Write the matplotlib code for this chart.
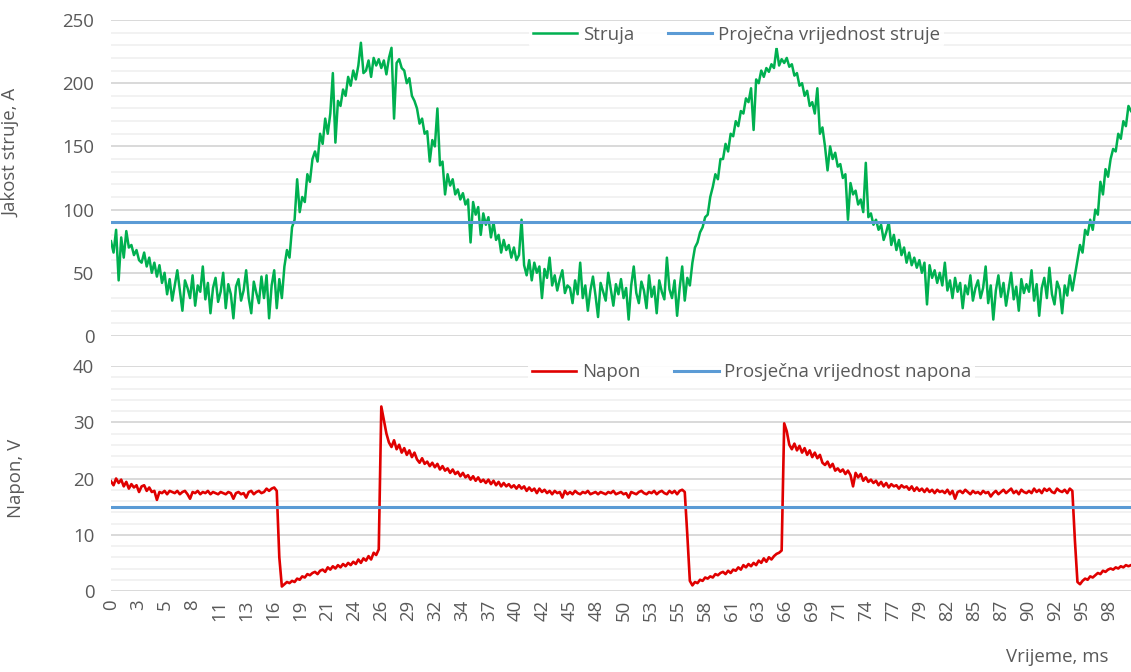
import numpy as np
import matplotlib
matplotlib.use("Agg")
import matplotlib.pyplot as plt
from matplotlib.ticker import MultipleLocator

plt.rcParams['font.family'] = ['Open Sans', 'DejaVu Sans']

# ---------------- data ----------------
sample_step_ms = 0.25

current_A = [
    75, 66, 84, 44, 78, 62, 83, 70, 72, 64, 68, 60, 58, 66, 55, 62, 50, 58, 47, 56,
    42, 50, 33, 45, 28, 40, 52, 36, 20, 44, 38, 30, 48, 24, 40, 35, 55, 29, 42, 18,
    38, 46, 27, 35, 50, 22, 41, 33, 14, 39, 45, 28, 36, 52, 30, 18, 43, 34, 26, 47,
    30, 48, 14, 40, 52, 22, 45, 30, 55, 68, 62, 86, 92, 124, 98, 110, 106, 128, 122, 140,
    146, 138, 160, 152, 172, 160, 176, 208, 153, 186, 182, 195, 190, 205, 198, 210, 203, 214, 232, 208,
    210, 218, 205, 220, 214, 219, 212, 218, 207, 220, 228, 172, 216, 219, 212, 210, 200, 204, 190, 186,
    180, 168, 172, 160, 162, 138, 155, 150, 180, 135, 138, 112, 128, 119, 124, 112, 116, 108, 113, 104,
    108, 74, 106, 96, 102, 80, 97, 88, 94, 78, 90, 76, 80, 66, 76, 68, 72, 62, 70, 60,
    64, 92, 56, 48, 60, 44, 58, 50, 55, 30, 53, 46, 62, 40, 48, 36, 45, 52, 34, 40,
    38, 26, 44, 33, 58, 30, 40, 20, 36, 47, 32, 15, 42, 35, 28, 50, 37, 24, 41, 33,
    45, 30, 38, 13, 40, 55, 34, 26, 43, 36, 22, 48, 31, 39, 18, 44, 35, 29, 62, 37,
    30, 44, 16, 38, 55, 28, 46, 40, 58, 70, 74, 82, 86, 94, 96, 110, 118, 128, 124, 140,
    140, 152, 146, 160, 158, 170, 166, 178, 176, 188, 185, 196, 163, 203, 200, 210, 205, 212, 209, 215,
    212, 228, 214, 219, 216, 220, 213, 215, 206, 208, 198, 200, 190, 194, 182, 185, 176, 196, 160, 165,
    150, 131, 150, 140, 145, 134, 136, 125, 128, 92, 121, 112, 115, 104, 108, 98, 137, 94, 97, 88,
    92, 84, 88, 76, 82, 90, 72, 80, 68, 76, 64, 70, 58, 66, 56, 62, 54, 60, 50, 58,
    25, 56, 46, 52, 42, 50, 40, 58, 36, 44, 30, 46, 35, 42, 22, 40, 33, 48, 28, 38,
    44, 30, 38, 55, 26, 40, 13, 36, 48, 31, 42, 24, 37, 50, 29, 39, 20, 45, 34, 41,
    35, 52, 28, 41, 16, 38, 46, 30, 54, 33, 25, 43, 37, 18, 40, 32, 48, 36, 48, 60,
    72, 66, 84, 80, 92, 84, 100, 96, 122, 112, 132, 126, 140, 148, 146, 160, 156, 170, 166, 182, 178,
]

voltage_V = [
    19.5, 18.8, 20.0, 19.2, 19.8, 18.6, 19.4, 18.2, 19.0, 18.4, 18.8, 17.6, 18.6, 18.8, 17.8, 18.4, 17.6, 17.8, 16.2, 17.6,
    17.4, 17.8, 17.2, 17.8, 17.6, 17.4, 17.8, 17.2, 17.6, 17.8, 17.2, 16.4, 17.6, 17.4, 17.8, 17.2, 17.6, 17.4, 17.8, 17.2,
    17.6, 17.4, 17.2, 17.6, 17.4, 17.2, 17.6, 17.4, 16.4, 17.4, 17.6, 17.2, 17.4, 16.6, 17.6, 17.8, 17.2, 17.6, 17.8, 17.4,
    17.6, 18.2, 17.8, 18.2, 18.4, 17.8, 6.0, 0.8, 1.2, 1.6, 1.4, 1.8, 1.6, 2.2, 2.0, 2.6, 2.4, 3.0, 2.8, 3.2,
    3.4, 3.0, 3.6, 3.8, 3.4, 4.2, 3.8, 4.4, 4.0, 4.6, 4.2, 4.8, 4.4, 5.0, 4.6, 5.2, 4.8, 5.6, 5.0, 5.8,
    5.4, 6.2, 5.6, 6.8, 6.4, 7.4, 32.8, 30.4, 28.0, 26.4, 25.6, 26.8, 25.2, 26.0, 24.6, 25.4, 24.2, 25.0, 23.8, 24.6,
    23.4, 22.8, 23.6, 22.6, 23.0, 22.2, 22.8, 22.0, 22.6, 21.6, 22.2, 21.4, 21.8, 21.0, 21.6, 20.8, 21.2, 20.4, 21.0, 20.2,
    20.6, 19.8, 20.4, 19.6, 20.2, 19.4, 19.8, 19.2, 19.8, 19.0, 19.6, 18.8, 19.4, 18.6, 19.2, 18.6, 19.0, 18.4, 18.8, 18.2,
    18.8, 18.2, 18.6, 17.8, 18.4, 17.8, 18.2, 17.4, 18.2, 17.6, 18.0, 17.4, 17.8, 17.2, 17.8, 17.4, 17.6, 16.6, 17.8, 17.2,
    17.6, 17.2, 17.8, 17.4, 17.2, 17.6, 17.4, 17.8, 17.2, 17.4, 17.6, 17.2, 17.6, 17.4, 17.2, 17.6, 17.4, 17.8, 17.2, 17.4,
    17.6, 17.2, 17.4, 16.6, 17.6, 17.4, 17.2, 17.6, 17.8, 17.4, 17.2, 17.6, 17.4, 17.8, 17.2, 17.6, 17.8, 17.4, 17.2, 17.8,
    17.4, 17.8, 17.2, 17.8, 18.0, 17.6, 10.0, 1.8, 1.0, 1.6, 1.4, 2.0, 1.8, 2.4, 2.2, 2.6, 2.4, 3.0, 2.8, 3.2,
    3.4, 3.0, 3.6, 3.2, 3.8, 3.6, 4.2, 3.8, 4.6, 4.2, 4.8, 4.4, 5.0, 4.6, 5.4, 5.0, 5.8, 5.2, 6.0, 5.6,
    6.2, 6.6, 6.8, 7.2, 29.8, 28.4, 26.0, 25.2, 26.2, 25.0, 25.8, 24.6, 25.4, 24.2, 25.0, 23.8, 24.6, 23.6, 24.2, 22.8,
    22.4, 23.0, 22.0, 22.6, 21.4, 21.8, 21.2, 21.6, 20.8, 21.4, 20.6, 18.6, 21.0, 20.2, 20.8, 19.6, 20.2, 19.4, 19.8, 19.2,
    19.6, 18.8, 19.4, 18.6, 19.2, 18.4, 19.0, 18.6, 18.8, 18.2, 18.8, 18.4, 18.6, 18.0, 18.6, 17.8, 18.4, 17.8, 18.2, 17.6,
    18.2, 17.6, 18.0, 17.4, 18.0, 17.6, 17.8, 17.4, 18.0, 17.2, 17.8, 16.4, 17.6, 17.8, 17.4, 18.0, 17.6, 17.2, 17.8, 17.4,
    17.6, 17.2, 17.8, 17.4, 17.6, 16.8, 17.4, 17.8, 17.2, 17.6, 18.0, 17.4, 17.8, 18.2, 17.4, 17.8, 17.2, 18.0, 17.6, 17.4,
    17.8, 17.4, 18.2, 17.6, 18.0, 17.4, 18.2, 17.8, 18.2, 17.6, 17.4, 18.2, 17.8, 17.6, 18.0, 17.4, 18.2, 17.8, 9.0, 1.6,
    1.2, 1.8, 2.2, 2.0, 2.6, 2.4, 2.8, 3.2, 3.0, 3.6, 3.4, 3.8, 4.0, 3.8, 4.2, 4.0, 4.4, 4.2, 4.6, 4.4, 4.6,
]

avg_current_A = 90
avg_voltage_V = 15

tick_labels = ["0", "3", "5", "8", "11", "13", "16", "19", "21", "24", "26", "29", "32",
               "34", "37", "40", "42", "45", "48", "50", "53", "55", "58", "61", "63",
               "66", "69", "71", "74", "77", "79", "82", "85", "87", "90", "92", "95", "98"]
tick_step_ms = 2.645

# ---------------- styling ----------------
GREEN = "#00B050"
RED = "#E00000"
BLUE = "#5B9BD5"
TXT = "#595959"
MAJ = "#D9D9D9"
MIN = "#F0F0F0"
FS = 13.4

time_ms = np.arange(len(current_A)) * sample_step_ms
time_v = np.arange(len(voltage_V)) * sample_step_ms

fig = plt.figure(figsize=(11.31, 6.72), dpi=100)
ax1 = fig.add_axes([111 / 1131, 1 - 336 / 672, 1020 / 1131, 316 / 672])
ax2 = fig.add_axes([111 / 1131, 1 - 591 / 672, 1020 / 1131, 225 / 672])


def style(ax, ymax, major, minor):
    ax.set_xlim(0, 100)
    ax.set_ylim(0, ymax)
    ax.yaxis.set_major_locator(MultipleLocator(major))
    ax.yaxis.set_minor_locator(MultipleLocator(minor))
    for s in ax.spines.values():
        s.set_visible(False)
    ax.grid(True, which="major", axis="y", color=MAJ, linewidth=1.4, zorder=0)
    ax.grid(True, which="minor", axis="y", color=MIN, linewidth=1.2, zorder=0)
    ax.tick_params(axis="y", which="both", length=0, pad=12, labelsize=FS, labelcolor=TXT)
    ax.set_axisbelow(True)
    ax.set_xticks([i * tick_step_ms for i in range(len(tick_labels))])


style(ax1, 250, 50, 10)
style(ax2, 40, 10, 2)

ax1.plot(time_ms, current_A, color=GREEN, linewidth=1.8, label="Struja", zorder=3)
ax1.axhline(avg_current_A, color=BLUE, linewidth=2.2, label="Proječna vrijednost struje", zorder=3)
ax1.tick_params(axis="x", length=0, labelbottom=False)

ax2.plot(time_v, voltage_V, color=RED, linewidth=1.9, label="Napon", zorder=3)
ax2.axhline(avg_voltage_V, color=BLUE, linewidth=2.2, label="Prosječna vrijednost napona", zorder=3)
ax2.set_xticklabels(tick_labels, rotation=90)
ax2.tick_params(axis="x", length=0, pad=6, labelsize=FS, labelcolor=TXT)

ax1.set_ylabel("Jakost struje, A", fontsize=FS, color=TXT)
ax1.yaxis.set_label_coords(-0.089, 0.58)
ax2.set_ylabel("Napon, V", fontsize=FS, color=TXT)
ax2.yaxis.set_label_coords(-0.084, 0.5)

for ax, cx, cy in ((ax1, 0.613, 0.953), (ax2, 0.628, 0.973)):
    leg = ax.legend(loc="center", bbox_to_anchor=(cx, cy), ncol=2, frameon=True,
                    fontsize=FS, handlelength=2.4, handletextpad=0.3, columnspacing=1.8,
                    borderpad=0.2, labelcolor=TXT)
    leg.get_frame().set_facecolor("white")
    leg.get_frame().set_edgecolor("none")
    leg.get_frame().set_alpha(0.9)
    leg.set_zorder(5)

fig.text(1057 / 1131, 1 - 657 / 672, "Vrijeme, ms", ha="center", va="center",
         fontsize=FS, color=TXT)

fig.savefig("out.png", dpi=100, facecolor="white")
